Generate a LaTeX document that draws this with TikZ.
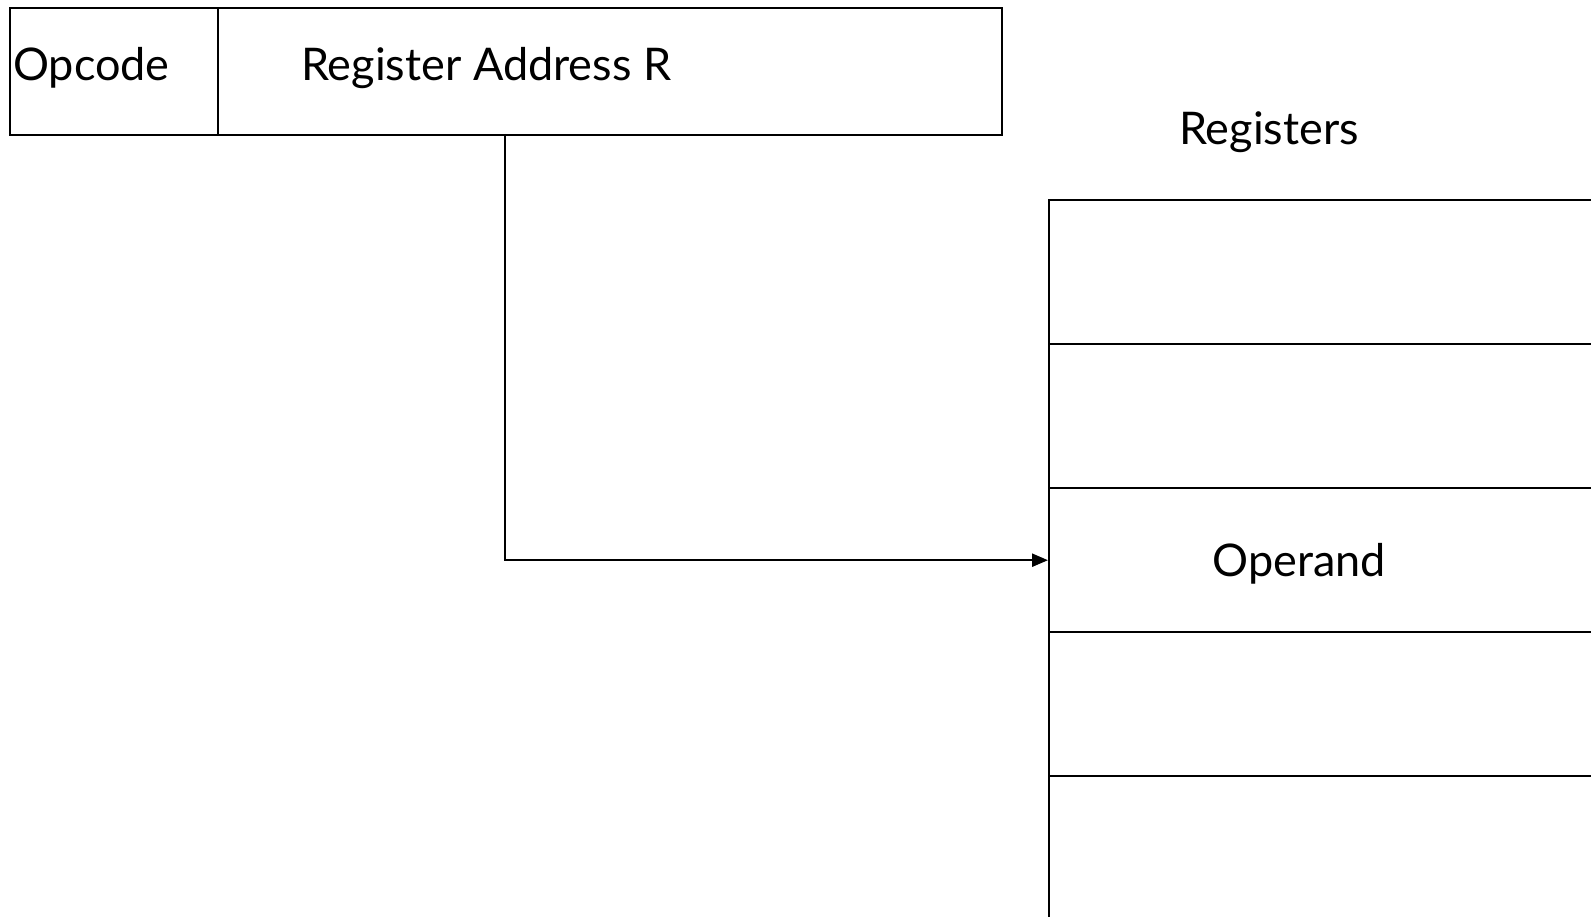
\documentclass[tikz,border=0pt]{standalone}
\usepackage{fontspec}
\setmainfont{Lato}
\usetikzlibrary{arrows.meta}
\begin{document}
\begin{tikzpicture}[x=1pt,y=-1pt,
  box/.style={draw,line width=2.4pt,inner sep=0pt,anchor=north west},
  cell/.style={box,minimum width=620pt,minimum height=144pt},
  lbl/.style={inner sep=0pt,font=\fontsize{45}{54}\selectfont}]
\useasboundingbox (0,0) rectangle (1591,917);
\node[box,minimum width=208pt,minimum height=127pt] (opc) at (9,7) {};
\node[box,minimum width=784pt,minimum height=127pt] (ra) at (217,7) {};
\node[lbl,anchor=west] (opct) at (13,68) {Opcode};
\node[lbl,anchor=west] (rat) at (301,68) {Register Address R};
\node[lbl] (regt) at (1269,132) {Registers};
\node[cell] (c1) at (1048,199) {};
\node[cell] (c2) at (1048,343) {};
\node[cell] (c3) at (1048,487) {};
\node[cell] (c4) at (1048,631) {};
\node[cell] (c5) at (1048,775) {};
\node[lbl] (opt) at (1299,564) {Operand};
\coordinate (s) at (505,134);
\draw[line width=2.4pt,-{Triangle[length=16pt,width=13pt]}] (s) |- (c3.west);
\end{tikzpicture}
\end{document}
